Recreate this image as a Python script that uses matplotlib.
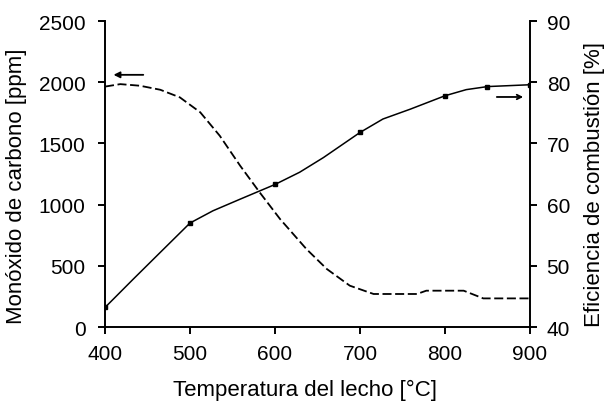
import matplotlib.pyplot as plt

plt.rcParams['font.family'] = ['Liberation Sans', 'DejaVu Sans']

# monóxido de carbono [ppm] (curva discontinua)
t_co = [400, 418, 441, 465, 488, 512, 535, 559, 582, 606, 637, 661, 688, 716,
        767, 778, 822, 837, 845, 900]
co = [1965, 1985, 1972, 1939, 1877, 1755, 1563, 1318, 1100, 882, 637, 474, 338,
      270, 270, 297, 297, 256, 234, 234]

# eficiencia de combustión [%] (curva continua)
t_ef = [400, 433, 465, 500, 527, 559, 600, 629, 657, 700, 727, 759, 800, 825,
        850, 900]
ef = [43.2, 47.8, 52.2, 57.0, 59.0, 60.9, 63.3, 65.3, 67.7, 71.8, 74.0, 75.6,
      77.8, 78.8, 79.3, 79.6]

# puntos medidos
t_pts = [400, 500, 600, 700, 800, 850, 900]
ef_pts = [43.2, 57.0, 63.3, 71.8, 77.8, 79.3, 79.6]

x_ticks = [400, 500, 600, 700, 800, 900]
co_ticks = [0, 500, 1000, 1500, 2000, 2500]
ef_ticks = [40, 50, 60, 70, 80, 90]

fs = 15
fs_lab = 16

fig = plt.figure(figsize=(6.05, 4.02), dpi=100)
ax = fig.add_axes([0.1736, 0.184, 0.7024, 0.761])
ax2 = ax.twinx()

ax.plot(t_co, co, color='black', lw=1.3, dashes=(5, 2))
ax2.plot(t_ef, ef, color='black', lw=1.1)
ax2.plot(t_pts, ef_pts, ls='none', color='black', marker='s', ms=3.5)

ax.set_xlim(400, 900)
ax.set_ylim(0, 2500)
ax2.set_ylim(40, 90)
ax.set_xticks(x_ticks)
ax.set_yticks(co_ticks)
ax2.set_yticks(ef_ticks)

for a in (ax, ax2):
    a.spines['top'].set_visible(False)
    a.tick_params(direction='out', length=5, width=1.4, labelsize=fs, pad=7)
    for s in a.spines.values():
        s.set_linewidth(1.4)
ax.tick_params(axis='y', pad=9)
ax.spines['right'].set_visible(False)
ax2.spines['left'].set_visible(False)
ax2.spines['bottom'].set_visible(False)

ax.set_xlabel('Temperatura del lecho [°C]', fontsize=fs_lab)
ax.set_ylabel('Monóxido de carbono [ppm]', fontsize=fs_lab)
ax2.set_ylabel('Eficiencia de combustión [%]', fontsize=fs_lab)
ax.xaxis.set_label_coords(0.47, -0.17)
ax.yaxis.set_label_coords(-0.183, 0.465)
ax2.yaxis.set_label_coords(1.127, 0.47)

ax.annotate('', xy=(410, 2061), xytext=(445, 2061),
            arrowprops=dict(arrowstyle='-|>', color='black', lw=1.3,
                            mutation_scale=9, shrinkA=0, shrinkB=0))
ax2.annotate('', xy=(892, 77.6), xytext=(861, 77.6),
             arrowprops=dict(arrowstyle='->', color='black', lw=1.3,
                             mutation_scale=8, shrinkA=0, shrinkB=0))

fig.savefig('out.png', dpi=100)
